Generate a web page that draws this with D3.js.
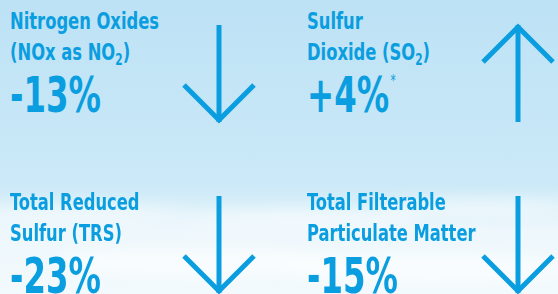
<!DOCTYPE html>
<html>
  <head>
    <meta charset="utf-8">
    <title>Emission changes</title>
    <script type="text/javascript" src="https://cdn.jsdelivr.net/npm/d3@7"></script>
    <style>
      body { margin: 0; }
      svg { display: block; }
    </style>
  </head>
  <body>
<script type="text/javascript">
// values
var line1 = ["Nitrogen Oxides", "Sulfur", "Total Reduced", "Total Filterable"];
var line2 = [["(NOx as NO", "2", ")"], ["Dioxide (SO", "2", ")"], ["Sulfur (TRS)", "", ""], ["Particulate Matter", "", ""]];
var changes = [-13, 4, -23, -15];
var notes = ["", "*", "", ""];

var w = 558;
var h = 294;
var blue = "#0a9ee0";
var font = "'DejaVu Sans Condensed', 'Liberation Sans Narrow', sans-serif";
var squeeze = 0.79;    // condensed look for labels
var bigSqueeze = 0.72; // and for the big numbers

var svg = d3.select("body")
            .append("svg")
            .attr("width", w)
            .attr("height", h);

var defs = svg.append("defs");
var sky = defs.append("linearGradient")
              .attr("id", "sky")
              .attr("x1", 0).attr("y1", 0)
              .attr("x2", 0).attr("y2", 1);
sky.append("stop").attr("offset", "0").attr("stop-color", "#bde2f5");
sky.append("stop").attr("offset", "0.62").attr("stop-color", "#cbe9f8");
sky.append("stop").attr("offset", "0.7").attr("stop-color", "#d8eff9");
sky.append("stop").attr("offset", "0.78").attr("stop-color", "#edf7fc");
sky.append("stop").attr("offset", "1").attr("stop-color", "#f3fafd");
defs.append("filter").attr("id", "blur")
    .attr("x", "-50%").attr("y", "-50%").attr("width", "200%").attr("height", "200%")
    .append("feGaussianBlur").attr("stdDeviation", 8);

svg.append("rect")
   .attr("width", w)
   .attr("height", h)
   .attr("fill", "url(#sky)");

// soft clouds near the bottom
var clouds = [[80, 214, 110, 8], [300, 218, 120, 8], [480, 208, 100, 8], [200, 262, 150, 14], [430, 268, 150, 14]];
svg.append("g")
   .attr("filter", "url(#blur)")
   .selectAll("ellipse")
   .data(clouds)
   .enter()
   .append("ellipse")
   .attr("cx", function(d){ return d[0]; })
   .attr("cy", function(d){ return d[1]; })
   .attr("rx", function(d){ return d[2]; })
   .attr("ry", function(d){ return d[3]; })
   .attr("fill", "#ffffff")
   .attr("opacity", 0.6);

// 2x2 grid
var colText = d3.scaleOrdinal().domain([0, 1]).range([10, 307]);
var colArrow = d3.scaleOrdinal().domain([0, 1]).range([219, 518]);
var rowText = d3.scaleOrdinal().domain([0, 1]).range([29, 210]);
var rowArrow = d3.scaleOrdinal().domain([0, 1]).range([25, 196]);
var arrowLen = 97;
var arm = 35;

function place(dy, sx) {
  return function(d, i) {
    return "translate(" + colText(i % 2) + "," + (rowText(Math.floor(i / 2)) + dy) + ") scale(" + sx + ",1)";
  };
}

var cells = svg.selectAll("g.cell")
   .data(changes)
   .enter()
   .append("g")
   .attr("class", "cell");

cells.append("text")
   .attr("transform", place(0, squeeze))
   .attr("font-family", font)
   .attr("font-weight", "bold")
   .attr("font-size", 23)
   .attr("fill", blue)
   .text(function(d, i){ return line1[i]; });

var l2 = cells.append("text")
   .attr("transform", place(31, squeeze))
   .attr("font-family", font)
   .attr("font-weight", "bold")
   .attr("font-size", 23)
   .attr("fill", blue);
l2.append("tspan").text(function(d, i){ return line2[i][0]; });
l2.append("tspan").attr("font-size", 15).attr("dy", 5).text(function(d, i){ return line2[i][1]; });
l2.append("tspan").attr("dy", -5).text(function(d, i){ return line2[i][2]; });

var big = cells.append("text")
   .attr("transform", place(83, bigSqueeze))
   .attr("font-family", font)
   .attr("font-weight", "bold")
   .attr("font-size", 50)
   .attr("fill", blue);
big.append("tspan").text(function(d){ return (d > 0 ? "+" : "-") + Math.abs(d) + "%"; });
big.append("tspan").attr("font-size", 16).attr("font-weight", "normal").attr("dx", 2).attr("dy", -26).text(function(d, i){ return notes[i]; });

// arrows: direction from sign of the change
cells.append("line")
   .attr("x1", function(d, i){ return colArrow(i % 2); })
   .attr("x2", function(d, i){ return colArrow(i % 2); })
   .attr("y1", function(d, i){ return rowArrow(Math.floor(i / 2)); })
   .attr("y2", function(d, i){ return rowArrow(Math.floor(i / 2)) + arrowLen; })
   .attr("stroke", blue)
   .attr("stroke-width", 5);

var head = d3.line();
cells.append("path")
   .attr("d", function(d, i){
      var x = colArrow(i % 2);
      var top = rowArrow(Math.floor(i / 2));
      var tip = d < 0 ? top + arrowLen - 2 : top + 2;
      var back = d < 0 ? tip - arm : tip + arm;
      return head([[x - arm, back], [x, tip], [x + arm, back]]);
   })
   .attr("fill", "none")
   .attr("stroke", blue)
   .attr("stroke-width", 5)
   .attr("stroke-linejoin", "miter");
</script>
  </body>
</html>
